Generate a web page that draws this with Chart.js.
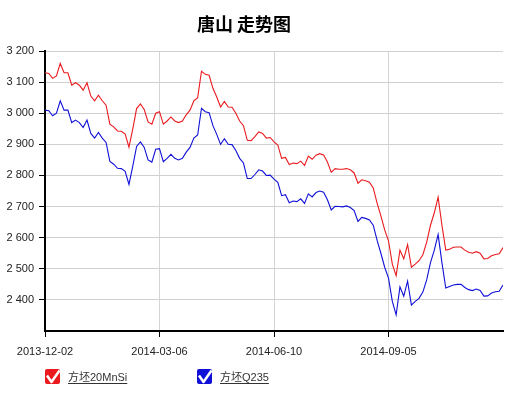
<!DOCTYPE html>
<html>
<head>
<meta charset="utf-8">
<script src="https://cdn.jsdelivr.net/npm/chart.js@4/dist/chart.umd.min.js"></script>
<style>
  html, body { margin: 0; padding: 0; background: #fff; }
  #wrap { width: 526px; height: 397px; }
</style>
</head>
<body>
<div id="wrap"><canvas id="c" width="526" height="397"></canvas></div>
<script>
const chartTitle = '唐山 走势图';
const seriesNames = ['方坯20MnSi', '方坯Q235'];
const seriesColors = ['#ea1a1e', '#1010d8'];

// x axis labels sit every 30 points
const tickPositions = [0, 30, 60, 90];
const tickLabels = ['2013-12-02', '2014-03-06', '2014-06-10', '2014-09-05'];

const red = [
  3130, 3128, 3112, 3120, 3160, 3130, 3130, 3090, 3098, 3090,
  3074, 3098, 3055, 3040, 3058, 3040, 3026, 2965, 2956, 2943,
  2942, 2933, 2891, 2950, 3015, 3030, 3012, 2972, 2965, 3000,
  3005, 2965, 2975, 2988, 2975, 2970, 2975, 2995, 3010, 3040,
  3050, 3135, 3125, 3122, 3080, 3052, 3020, 3038, 3020, 3019,
  3000, 2975, 2960, 2913, 2912, 2925, 2940, 2935, 2920, 2922,
  2908, 2898, 2855, 2858, 2835, 2840, 2838, 2846, 2832, 2862,
  2852, 2865, 2870, 2866, 2843, 2810, 2822, 2820, 2820, 2822,
  2818, 2808, 2775, 2786, 2783, 2778, 2760, 2712, 2670, 2625,
  2590, 2515, 2478, 2560, 2532, 2578, 2505, 2515, 2526, 2545,
  2585, 2640, 2680, 2730, 2640, 2560, 2563, 2569, 2570, 2570,
  2560, 2553, 2550, 2555, 2550, 2532, 2533, 2542, 2546, 2548,
  2568
];

const blue = [
  3010, 3008, 2992, 3000, 3040, 3010, 3010, 2970, 2978, 2970,
  2954, 2978, 2935, 2920, 2938, 2920, 2906, 2845, 2836, 2823,
  2822, 2813, 2771, 2830, 2893, 2908, 2890, 2850, 2843, 2884,
  2886, 2844, 2855, 2868, 2855, 2850, 2855, 2875, 2890, 2920,
  2930, 3016, 3005, 3002, 2960, 2932, 2900, 2918, 2900, 2899,
  2880, 2855, 2840, 2790, 2790, 2803, 2818, 2814, 2800, 2801,
  2788, 2778, 2735, 2738, 2712, 2718, 2716, 2725, 2710, 2741,
  2731, 2745, 2750, 2746, 2722, 2689, 2701, 2700, 2699, 2702,
  2697, 2687, 2652, 2665, 2662, 2657, 2640, 2592, 2550, 2505,
  2470, 2395, 2352, 2442, 2412, 2460, 2383, 2395, 2405, 2425,
  2464, 2520, 2560, 2610, 2520, 2438, 2443, 2448, 2450, 2450,
  2440, 2433, 2430, 2435, 2430, 2412, 2413, 2422, 2426, 2428,
  2448
];

const yMin = 2300, yMax = 3200, yStep = 100;

const tickFont = { family: '"Liberation Sans", Arial, sans-serif', size: 11 };

function toPoints(arr) {
  return arr.map((v, i) => ({ x: i, y: v }));
}

function fmt(v) {
  return String(v).replace(/\B(?=(\d{3})+(?!\d))/g, ' ');
}

// title is drawn by hand, it sits a bit left of the canvas centre
const topTitle = {
  id: 'topTitle',
  afterDraw(chart) {
    const ctx = chart.ctx;
    ctx.save();
    ctx.font = 'bold 18px "Noto Sans CJK SC", sans-serif';
    ctx.fillStyle = '#000';
    ctx.textAlign = 'center';
    ctx.textBaseline = 'middle';
    ctx.fillText(chartTitle, 244, 24);
    ctx.restore();
  }
};

// legend below the axis: checkbox + underlined name
const checkLegend = {
  id: 'checkLegend',
  afterDraw(chart) {
    const ctx = chart.ctx;
    const items = [{ x: 45 }, { x: 197 }];
    ctx.save();
    items.forEach((it, k) => {
      const bx = it.x, by = 369, s = 15;
      ctx.fillStyle = seriesColors[k];
      ctx.beginPath();
      ctx.roundRect(bx, by, s, s, 2);
      ctx.fill();
      ctx.strokeStyle = '#fff';
      ctx.lineWidth = 2.5;
      ctx.lineJoin = 'round';
      ctx.beginPath();
      ctx.moveTo(bx + 2, by + 6.5);
      ctx.lineTo(bx + 6.5, by + 13);
      ctx.lineTo(bx + 14.5, by + 1.5);
      ctx.stroke();

      ctx.font = '11px "Liberation Sans", Arial, "Noto Sans CJK SC", sans-serif';
      ctx.fillStyle = '#333';
      ctx.textBaseline = 'middle';
      ctx.textAlign = 'left';
      const tx = bx + 23;
      ctx.fillText(seriesNames[k], tx, by + 9);
      const w = ctx.measureText(seriesNames[k]).width;
      ctx.strokeStyle = '#333';
      ctx.lineWidth = 1;
      ctx.beginPath();
      ctx.moveTo(tx, by + 14.5);
      ctx.lineTo(tx + w, by + 14.5);
      ctx.stroke();
    });
    ctx.restore();
  }
};

new Chart(document.getElementById('c'), {
  type: 'line',
  data: {
    datasets: [
      { label: seriesNames[0], data: toPoints(red), borderColor: seriesColors[0] },
      { label: seriesNames[1], data: toPoints(blue), borderColor: seriesColors[1] }
    ]
  },
  options: {
    responsive: false,
    animation: false,
    devicePixelRatio: 1,
    layout: { padding: { left: 0, right: 23, top: 51, bottom: 40 } },
    elements: {
      point: { radius: 0, hoverRadius: 0 },
      line: { borderWidth: 1.1, tension: 0 }
    },
    plugins: {
      legend: { display: false },
      tooltip: { enabled: false },
      title: { display: false }
    },
    scales: {
      x: {
        type: 'linear',
        min: 0,
        max: red.length - 1,
        afterBuildTicks(scale) {
          scale.ticks = tickPositions.map(v => ({ value: v }));
        },
        afterFit(scale) { scale.height = 26; },
        ticks: {
          font: tickFont,
          color: '#222',
          padding: 8,
          maxRotation: 0,
          autoSkip: false,
          callback(v) {
            const k = tickPositions.indexOf(v);
            return k >= 0 ? tickLabels[k] : '';
          }
        },
        grid: { color: '#d4d4d4', tickColor: '#000', tickLength: 6, lineWidth: 1 },
        border: { color: '#000', width: 2 }
      },
      y: {
        min: yMin,
        max: yMax,
        afterFit(scale) { scale.width = 45; },
        ticks: {
          stepSize: yStep,
          font: tickFont,
          color: '#222',
          padding: 5,
          callback(v) { return v === yMin ? '' : fmt(v); }
        },
        grid: {
          color: '#d0d0d0',
          tickLength: 6,
          tickColor(ctx) { return ctx.tick && ctx.tick.value === yMin ? 'rgba(0,0,0,0)' : '#000'; }
        },
        border: { color: '#000', width: 2 }
      }
    }
  },
  plugins: [topTitle, checkLegend]
});
</script>
</body>
</html>
